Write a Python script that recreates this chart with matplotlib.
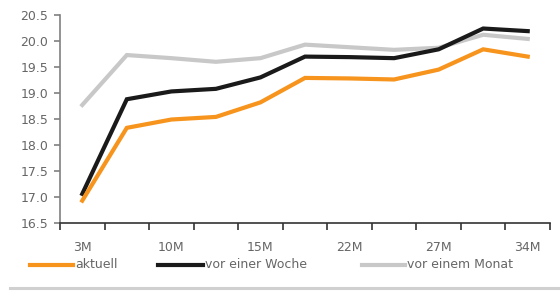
import matplotlib
matplotlib.use("Agg")
import matplotlib.pyplot as plt
from matplotlib.lines import Line2D

plt.rcParams['font.family'] = ['DejaVu Sans']

categories = ['3M', '', '10M', '', '15M', '', '22M', '', '27M', '', '34M']
aktuell = [16.93, 18.33, 18.49, 18.54, 18.82, 19.29, 19.28, 19.26, 19.45, 19.84, 19.70]
vor_woche = [17.06, 18.88, 19.03, 19.08, 19.30, 19.70, 19.69, 19.67, 19.84, 20.24, 20.19]
vor_monat = [18.77, 19.73, 19.67, 19.60, 19.67, 19.93, 19.88, 19.83, 19.87, 20.12, 20.04]
series_names = ['aktuell', 'vor einer Woche', 'vor einem Monat']
series_colors = ['#F7941D', '#1A1A1A', '#C8C8C8']
yticks = [16.5, 17.0, 17.5, 18.0, 18.5, 19.0, 19.5, 20.0, 20.5]

FS = 9
TXT = '#666666'

fig = plt.figure(figsize=(5.6, 2.97), dpi=100)
ax = fig.add_axes([60/560, 1-223/297, 490/560, 208/297])

x = list(range(len(categories)))
data = [aktuell, vor_woche, vor_monat]
for i in [2, 1, 0]:
    ax.plot(x, data[i], color=series_colors[i], lw=3.0, solid_joinstyle='miter', zorder=3 + (2 - i))

ax.set_xlim(-0.5, len(categories) - 0.5)
ax.set_ylim(16.5, 20.5)
ax.set_yticks(yticks)
ax.set_yticklabels([f"{v:.1f}" for v in yticks])

ax.set_xticks([i - 0.5 for i in range(len(categories) + 1)])
ax.set_xticklabels([])
ax.set_xticks(x, minor=True)
ax.set_xticklabels(categories, minor=True)

for s in ['top', 'right']:
    ax.spines[s].set_visible(False)
ax.spines['left'].set_color('#808080')
ax.spines['left'].set_linewidth(1.2)
ax.spines['bottom'].set_color('#333333')
ax.spines['bottom'].set_linewidth(1.2)

ax.tick_params(axis='y', which='major', direction='out', length=4.3, width=1.2,
               color='#808080', pad=4, labelsize=FS, labelcolor=TXT)
ax.tick_params(axis='x', which='major', direction='out', length=5, width=1.2, color='#333333')
ax.tick_params(axis='x', which='minor', length=0, pad=13, labelsize=FS, labelcolor=TXT)

# legend (manual)
ly = 1 - 265/297
handles_x = [(30, 73), (158, 203), (362, 405)]
for (x0, x1), name, col in zip(handles_x, series_names, series_colors):
    fig.add_artist(Line2D([x0/560, x1/560], [ly, ly], color=col, lw=3.0, transform=fig.transFigure))
    fig.text((x1 + 2)/560, ly, name, fontsize=FS, color=TXT, va='center', ha='left')

# bottom separator
fig.add_artist(Line2D([10/560, 1.0], [1 - 288/297, 1 - 288/297], color='#D0D0D0', lw=2.2,
                      transform=fig.transFigure))

fig.savefig('out.png', dpi=100)
